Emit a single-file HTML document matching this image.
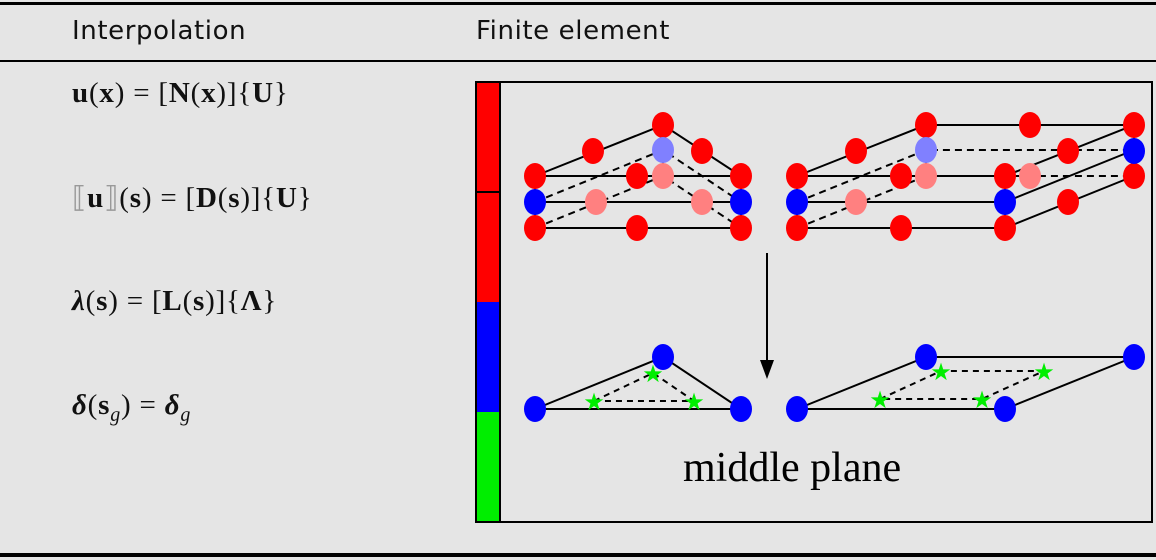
<!DOCTYPE html>
<html><head><style>
body{margin:0;background:#e5e5e5;}
.w{position:relative;width:1156px;height:560px;background:#e5e5e5;overflow:hidden;font-family:"DejaVu Sans","Liberation Sans",sans-serif;}
.h{position:absolute;top:16px;font-size:26px;color:#111;font-family:"DejaVu Sans",sans-serif;letter-spacing:0.6px;}
.eq{position:absolute;left:72px;font-family:"Liberation Serif",serif;font-size:29px;color:#111;letter-spacing:0.8px;}
b{font-weight:bold}
</style></head><body><div class="w">
<div style="position:absolute;left:0;top:2px;width:1156px;height:3px;background:#000"></div>
<div style="position:absolute;left:0;top:60px;width:1156px;height:2px;background:#000"></div>
<div style="position:absolute;left:0;top:553px;width:1156px;height:4px;background:#000"></div>
<div class="h" style="left:72px">Interpolation</div>
<div class="h" style="left:476px">Finite element</div>
<div class="eq" style="top:77px"><b>u</b>(<b>x</b>) = [<b>N</b>(<b>x</b>)]{<b>U</b>}</div>
<div class="eq" style="top:180px"><span style="color:#999">⟦</span><b>u</b><span style="color:#999">⟧</span>(<b>s</b>) = [<b>D</b>(<b>s</b>)]{<b>U</b>}</div>
<div class="eq" style="top:285px"><b><i>λ</i></b>(<b>s</b>) = [<b>L</b>(<b>s</b>)]{<b>Λ</b>}</div>
<div class="eq" style="top:389px"><b><i>δ</i></b>(<b>s</b><sub style="font-size:20px"><i>g</i></sub>) = <b><i>δ</i></b><sub style="font-size:20px"><i>g</i></sub></div>
<svg width="1156" height="560" style="position:absolute;left:0;top:0">
<rect x="476" y="82" width="676" height="440" fill="none" stroke="#000" stroke-width="2"/>
<rect x="477" y="83" width="23" height="219" fill="#f00"/>
<rect x="477" y="302" width="23" height="110" fill="#00f"/>
<rect x="477" y="412" width="23" height="109" fill="#0e0"/>
<line x1="477" y1="192" x2="500" y2="192" stroke="#000" stroke-width="2"/>
<line x1="500" y1="82" x2="500" y2="522" stroke="#000" stroke-width="2"/>
<g stroke="#000" stroke-width="2" fill="none">
<path d="M535,176L663,125L741,176Z M535,202H741 M535,228H741 M535,176V228 M741,176V228"/>
<path d="M797,176H1005L1134,125H926Z M797,202H1005L1134,150 M797,228H1005L1134,176 M797,176V228 M1005,176V228 M1134,125V176"/>
<path stroke-dasharray="7,5" d="M535,228L663,176L741,228 M535,202L663,150L741,202 M663,125V176 M797,228L926,176H1134 M797,202L926,150H1134 M926,125V176"/>
<path d="M535,409L663,357L741,409Z M797,409H1005L1134,357H926Z"/>
<path stroke-dasharray="6,5" d="M594,401L653,373L694,401Z M880,399L941,371H1044L982,399Z"/>
<line x1="767" y1="253" x2="767" y2="362"/>
</g>
<polygon points="760,360 774,360 767,379" fill="#000"/>
<g fill="#f00">
<ellipse cx="535" cy="176" rx="11" ry="13"/><ellipse cx="663" cy="125" rx="11" ry="13"/><ellipse cx="741" cy="176" rx="11" ry="13"/>
<ellipse cx="593" cy="151" rx="11" ry="13"/><ellipse cx="702" cy="151" rx="11" ry="13"/><ellipse cx="637" cy="176" rx="11" ry="13"/>
<ellipse cx="535" cy="228" rx="11" ry="13"/><ellipse cx="637" cy="228" rx="11" ry="13"/><ellipse cx="741" cy="228" rx="11" ry="13"/>
<ellipse cx="797" cy="176" rx="11" ry="13"/><ellipse cx="901" cy="176" rx="11" ry="13"/><ellipse cx="1005" cy="176" rx="11" ry="13"/>
<ellipse cx="926" cy="125" rx="11" ry="13"/><ellipse cx="1030" cy="125" rx="11" ry="13"/><ellipse cx="1134" cy="125" rx="11" ry="13"/>
<ellipse cx="856" cy="151" rx="11" ry="13"/><ellipse cx="1068" cy="151" rx="11" ry="13"/>
<ellipse cx="797" cy="228" rx="11" ry="13"/><ellipse cx="901" cy="228" rx="11" ry="13"/><ellipse cx="1005" cy="228" rx="11" ry="13"/>
<ellipse cx="1068" cy="202" rx="11" ry="13"/><ellipse cx="1134" cy="176" rx="11" ry="13"/>
</g>
<g fill="#ff8080">
<ellipse cx="663" cy="176" rx="11" ry="13"/><ellipse cx="596" cy="202" rx="11" ry="13"/><ellipse cx="702" cy="202" rx="11" ry="13"/>
<ellipse cx="926" cy="176" rx="11" ry="13"/><ellipse cx="1030" cy="176" rx="11" ry="13"/><ellipse cx="856" cy="202" rx="11" ry="13"/>
</g>
<g fill="#8080ff"><ellipse cx="663" cy="150" rx="11" ry="13"/><ellipse cx="926" cy="150" rx="11" ry="13"/></g>
<g fill="#00f">
<ellipse cx="535" cy="202" rx="11" ry="13"/><ellipse cx="741" cy="202" rx="11" ry="13"/>
<ellipse cx="797" cy="202" rx="11" ry="13"/><ellipse cx="1005" cy="202" rx="11" ry="13"/><ellipse cx="1134" cy="151" rx="11" ry="13"/>
<ellipse cx="535" cy="409" rx="11" ry="13"/><ellipse cx="663" cy="357" rx="11" ry="13"/><ellipse cx="741" cy="409" rx="11" ry="13"/>
<ellipse cx="797" cy="409" rx="11" ry="13"/><ellipse cx="1005" cy="409" rx="11" ry="13"/><ellipse cx="926" cy="357" rx="11" ry="13"/><ellipse cx="1134" cy="357" rx="11" ry="13"/>
</g>
<g fill="#0e0" font-size="24" text-anchor="middle" font-family="DejaVu Sans">
<text x="653" y="382">★</text><text x="594" y="410">★</text><text x="694" y="410">★</text>
<text x="941" y="380">★</text><text x="1044" y="380">★</text><text x="880" y="408">★</text><text x="982" y="408">★</text>
</g>
<text x="683" y="481" font-family="Liberation Serif,serif" font-size="42" fill="#000">middle plane</text>
</svg>
</div></body></html>
